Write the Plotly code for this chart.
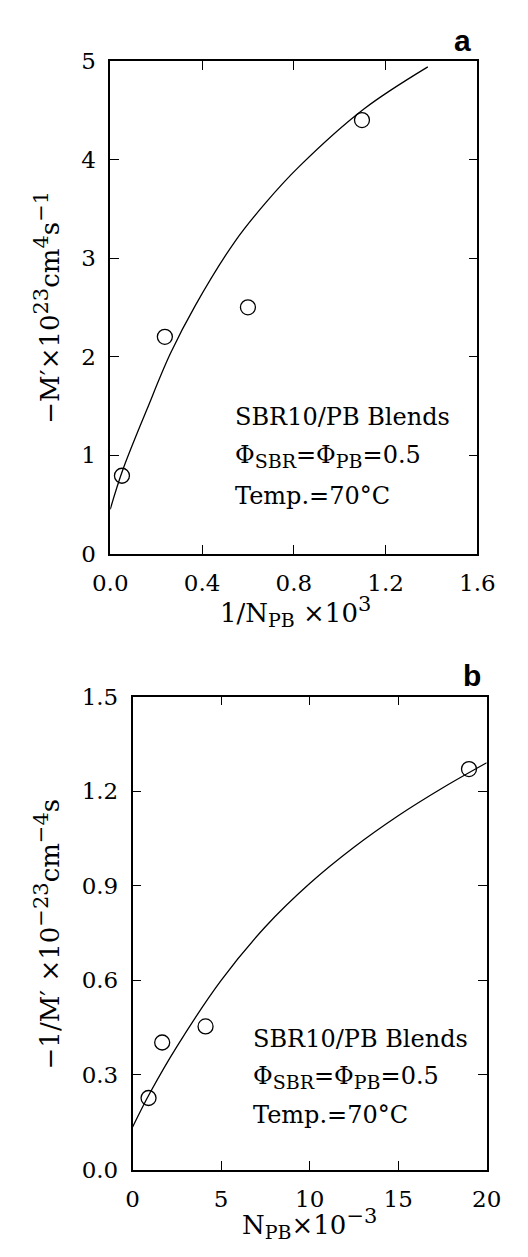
import plotly.graph_objects as go

# Panel a: -M' vs 1/N_PB
a_pts_x = [0.051, 0.238, 0.600, 1.097]
a_pts_y = [0.79, 2.20, 2.50, 4.40]
a_fit_x = [0.0, 0.054, 0.161, 0.262, 0.371, 0.544, 0.677, 0.824, 1.104, 1.384]
a_fit_y = [0.45, 0.845, 1.47, 2.03, 2.52, 3.17, 3.56, 3.93, 4.51, 4.94]
a_xticks = [0.0, 0.4, 0.8, 1.2, 1.6]
a_xtick_text = ["0.0", "0.4", "0.8", "1.2", "1.6"]
a_yticks = [0, 1, 2, 3, 4, 5]
a_ytick_text = ["0", "1", "2", "3", "4", "5"]

# Panel b: -1/M' vs N_PB
b_pts_x = [0.90, 1.67, 4.12, 19.0]
b_pts_y = [0.227, 0.403, 0.454, 1.27]
b_fit_x = [0.0, 1.0, 2.5, 5.0, 7.5, 10.0, 12.5, 15.0, 17.5, 20.0]
b_fit_y = [0.135, 0.245, 0.39, 0.60, 0.77, 0.907, 1.022, 1.122, 1.21, 1.29]
b_xticks = [0, 5, 10, 15, 20]
b_xtick_text = ["0", "5", "10", "15", "20"]
b_yticks = [0.0, 0.3, 0.6, 0.9, 1.2, 1.5]
b_ytick_text = ["0.0", "0.3", "0.6", "0.9", "1.2", "1.5"]

W, H = 528, 1257
SERIF = "DejaVu Serif"
FS_TICK = 23
FS_TEXT = 24
FS_TITLE = 26


def px(x):
    return x / W


def py(y):
    return 1 - y / H


def sup(s, size=21):
    return f'<sup><span style="font-size:{size}px">{s}</span></sup>'


def sub(s, size=19):
    return f'<sub><span style="font-size:{size}px">{s}</span></sub>'


fig = go.Figure()

line_style = dict(color="black", width=1.3, shape="spline", smoothing=1.0)
marker_style = dict(symbol="circle-open", size=15, color="black",
                    line=dict(color="black", width=1.3))

fig.add_trace(go.Scatter(x=a_fit_x, y=a_fit_y, mode="lines", line=line_style,
                         xaxis="x", yaxis="y", showlegend=False, hoverinfo="skip"))
fig.add_trace(go.Scatter(x=a_pts_x, y=a_pts_y, mode="markers", marker=marker_style,
                         xaxis="x", yaxis="y", showlegend=False))
fig.add_trace(go.Scatter(x=b_fit_x, y=b_fit_y, mode="lines", line=line_style,
                         xaxis="x2", yaxis="y2", showlegend=False, hoverinfo="skip"))
fig.add_trace(go.Scatter(x=b_pts_x, y=b_pts_y, mode="markers", marker=marker_style,
                         xaxis="x2", yaxis="y2", showlegend=False))

axis_common = dict(
    showgrid=False, zeroline=False, showline=True, linecolor="black", linewidth=1.5,
    mirror="ticks", ticks="inside", ticklen=9, tickwidth=1.3, tickcolor="black",
    tickfont=dict(family=SERIF, size=FS_TICK, color="black"), ticklabelstandoff=8,
    fixedrange=True,
)

fig.update_layout(
    width=W, height=H,
    margin=dict(l=0, r=0, t=0, b=0),
    paper_bgcolor="white", plot_bgcolor="white",
    xaxis=dict(domain=[px(99), px(493)], range=[0, 1.6], anchor="y",
               tickvals=a_xticks, ticktext=a_xtick_text, **axis_common),
    yaxis=dict(domain=[py(552), py(49)], range=[0, 5], anchor="x",
               tickvals=a_yticks, ticktext=a_ytick_text, **axis_common),
    xaxis2=dict(domain=[px(123), px(503)], range=[0, 20], anchor="y2",
                tickvals=b_xticks, ticktext=b_xtick_text, **axis_common),
    yaxis2=dict(domain=[py(1181), py(698)], range=[0, 1.5], anchor="x2",
                tickvals=b_yticks, ticktext=b_ytick_text, **axis_common),
)

txt = dict(family=SERIF, size=FS_TEXT, color="black")
ttl = dict(family=SERIF, size=FS_TITLE, color="black")
annotations = []

# in-plot legend text
legend_lines = ["SBR10/PB Blends",
                "Φ" + sub("SBR") + "=Φ" + sub("PB") + "=0.5",
                "Temp.=70°C"]
for xpix, ypix, step in [(231, 413, 40), (250, 1048, 38.5)]:
    for i, s in enumerate(legend_lines):
        annotations.append(dict(x=px(xpix), y=py(ypix + i * step), xref="paper", yref="paper",
                                text=s, showarrow=False, xanchor="left", yanchor="middle",
                                font=txt))

# axis titles
annotations += [
    dict(x=px(298), y=py(611), xref="paper", yref="paper", showarrow=False,
         text="1/N" + sub("PB") + " ×10" + sup("3"), xanchor="center", yanchor="middle",
         font=ttl),
    dict(x=px(313), y=py(1236), xref="paper", yref="paper", showarrow=False,
         text="N" + sub("PB") + "×10" + sup("−3"), xanchor="center", yanchor="middle",
         font=ttl),
    dict(x=px(31), y=py(300), xref="paper", yref="paper", showarrow=False, textangle=-90,
         text="−M′×10" + sup("23") + "cm" + sup("4") + "s" + sup("−1"),
         xanchor="center", yanchor="middle", font=ttl),
    dict(x=px(31), y=py(940), xref="paper", yref="paper", showarrow=False, textangle=-90,
         text="−1/M′ ×10" + sup("−23") + "cm" + sup("−4") + "s",
         xanchor="center", yanchor="middle", font=ttl),
]

# panel letters
annotations += [
    dict(x=px(477), y=py(28), xref="paper", yref="paper", showarrow=False, text="<b>a</b>",
         xanchor="center", yanchor="middle",
         font=dict(family="Liberation Sans", size=30, color="black")),
    dict(x=px(487), y=py(676), xref="paper", yref="paper", showarrow=False, text="<b>b</b>",
         xanchor="center", yanchor="middle",
         font=dict(family="Liberation Sans", size=30, color="black")),
]

fig.update_layout(annotations=annotations)

fig.write_html("out.html")
